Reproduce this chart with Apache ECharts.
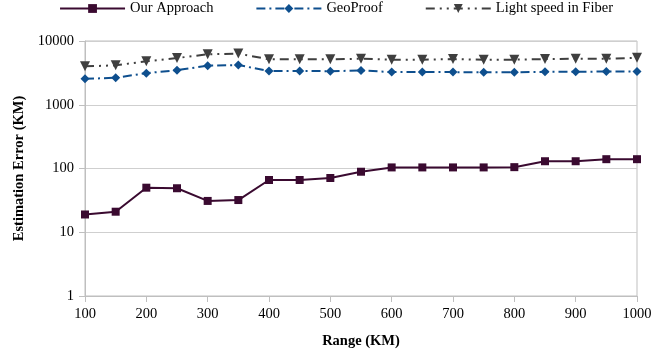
<!DOCTYPE html>
<html><head><meta charset="utf-8">
<script src="https://cdn.jsdelivr.net/npm/echarts@6/dist/echarts.min.js"></script>
<style>html,body{margin:0;padding:0;background:#fff}#c{width:672px;height:354px}</style>
</head><body><div id="c"></div>
<script>
const ranges = [100,150,200,250,300,350,400,450,500,550,600,650,700,750,800,850,900,950,1000];
const ourApproach = [19,21,50,49,31,32,66,66,71,89,104,104,104,104,105,130,130,140,140];
const geoProof = [2550,2650,3130,3480,4100,4200,3370,3390,3360,3450,3250,3250,3250,3240,3240,3280,3290,3320,3330];
const lightSpeed = [4000,4150,4800,5400,6200,6350,5150,5150,5150,5270,5100,5100,5200,5100,5100,5200,5270,5270,5450];
const yTicks = [1,10,100,1000,10000];
const seriesNames = ['Our Approach','GeoProof','Light speed in Fiber'];

const pairs = arr => ranges.map((x,i)=>[x,arr[i]]);
const font = 'Liberation Serif';
const fs = 14.5;
const chart = echarts.init(document.getElementById('c'));
chart.setOption({
  animation:false,
  textStyle:{fontFamily:font},
  legend:{
    top:-4, left:'center', itemWidth:65, itemHeight:11, itemGap:42,
    textStyle:{fontFamily:font,fontSize:fs,color:'#000'},
    data:seriesNames
  },
  grid:{left:85,right:35,top:41,bottom:56,show:true,borderColor:'#bfbfbf',borderWidth:1},
  xAxis:{
    type:'value',min:100,max:1000,interval:100,
    name:'Range (KM)',nameLocation:'middle',nameGap:38,
    nameTextStyle:{fontFamily:font,fontSize:fs,fontWeight:'bold',color:'#000'},
    axisLine:{lineStyle:{color:'#bfbfbf'}},
    axisTick:{show:true,length:6,lineStyle:{color:'#bfbfbf'}},
    axisLabel:{fontFamily:font,fontSize:fs,color:'#000',margin:11,formatter:v=>String(v)},
    splitLine:{show:false}
  },
  yAxis:{
    type:'log',logBase:10,min:1,max:10000,
    name:'Estimation Error (KM)',nameLocation:'middle',nameGap:56,
    nameTextStyle:{fontFamily:font,fontSize:fs,fontWeight:'bold',color:'#000'},
    axisLine:{show:true,lineStyle:{color:'#bfbfbf'}},
    axisTick:{show:true,length:6,lineStyle:{color:'#bfbfbf'}},
    axisLabel:{fontFamily:font,fontSize:fs,color:'#000',margin:11,
      formatter:v=>{const t=yTicks.find(k=>Math.abs(k-v)<1e-6*k);return t===undefined?'':String(t);}},
    splitLine:{show:true,lineStyle:{color:'#cfcfcf'}}
  },
  series:[
    {name:seriesNames[0],type:'line',data:pairs(ourApproach),symbol:'rect',symbolSize:8,
      itemStyle:{color:'#3a0a30'},lineStyle:{color:'#3a0a30',width:2}},
    {name:seriesNames[1],type:'line',data:pairs(geoProof),symbol:'diamond',symbolSize:9,
      itemStyle:{color:'#0e4f8e'},lineStyle:{color:'#0e4f8e',width:2,type:[9,4,2,4]}},
    {name:seriesNames[2],type:'line',data:pairs(lightSpeed),symbol:'triangle',symbolRotate:180,symbolSize:10,
      itemStyle:{color:'#3f3f3f'},lineStyle:{color:'#3f3f3f',width:2,type:[9,5,2,5,2,5]}}
  ]
});
</script></body></html>
